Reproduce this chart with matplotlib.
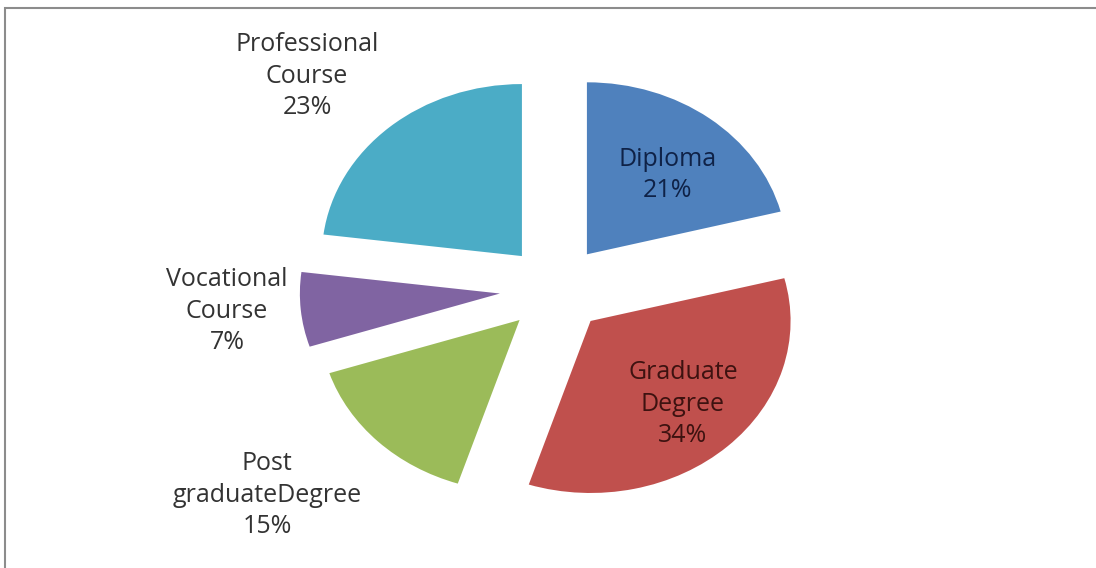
import matplotlib.pyplot as plt
from matplotlib.patches import Rectangle

# education level breakdown
categories = ["Diploma", "Graduate\nDegree", "Post\ngraduateDegree",
              "Vocational\nCourse", "Professional\nCourse"]
shares = [21, 34, 15, 7, 23]

slice_colors = ["#4F81BD", "#C0504D", "#9BBB59", "#8064A2", "#4BACC6"]
explode = [0.255, 0.255, 0.255, 0.28, 0.255]
# label centres in data units (pie centre at 0,0, radius 1)
label_xy = [(0.56, 0.663), (0.636, -0.669), (-1.443, -1.198),
            (-1.643, -0.128), (-1.243, 1.238)]
label_colors = ["#0f2247", "#3d1210", "#333333", "#333333", "#333333"]

plt.rcParams['font.family'] = ['Open Sans', 'DejaVu Sans']

fig = plt.figure(figsize=(10.96, 5.68), dpi=100)
ax = fig.add_axes([0, 0, 1, 1])

wedges, _ = ax.pie(shares, explode=explode, colors=slice_colors,
                   startangle=90, counterclock=False, radius=1,
                   wedgeprops=dict(linewidth=0))

# squash the pie a bit vertically, like the old office charts
ax.set_aspect('auto')
ax.set_xlim(-2.778, 2.7015)
ax.set_ylim(-1.622, 1.680)
ax.axis('off')

for i, w in enumerate(wedges):
    text = f"{categories[i]}\n{shares[i]}%"
    x, y = label_xy[i]
    ax.text(x, y, text, ha='center', va='center', fontsize=18,
            color=label_colors[i], linespacing=1.34)

# chart frame (only top and left edges end up inside the image)
fig.add_artist(Rectangle((5 / 1096, -0.5), 2, 0.5 + 1 - 8 / 568,
                         transform=fig.transFigure, fill=False,
                         edgecolor='#8c8c8c', linewidth=1.5))

plt.savefig("out.png", dpi=100)
